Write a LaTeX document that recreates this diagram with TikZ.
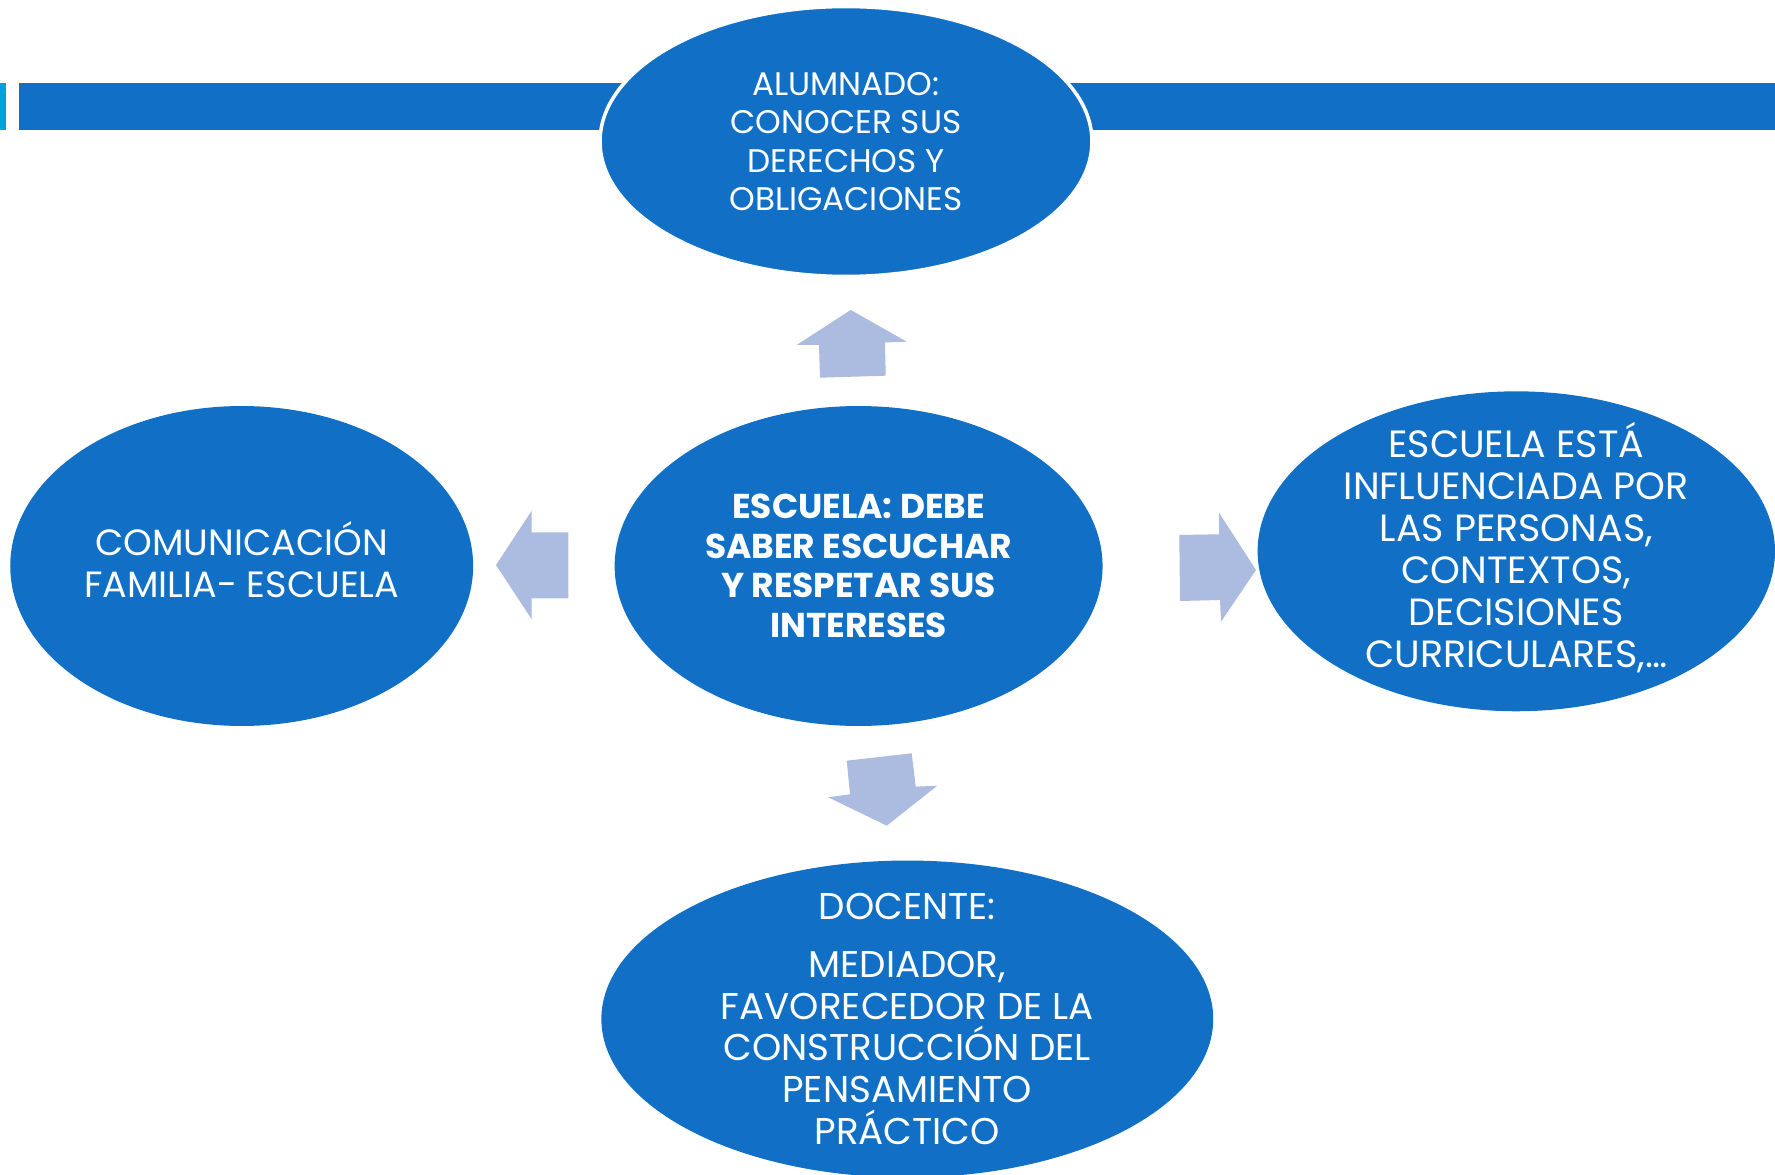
\documentclass[tikz,border=0pt]{standalone}
\usepackage{fontspec}
\setmainfont{Poppins}
\usetikzlibrary{shapes.geometric}
\definecolor{blaumittel}{RGB}{17,112,198}
\definecolor{pfeilblau}{RGB}{171,188,224}
\definecolor{cyanbalken}{RGB}{0,160,220}

\begin{document}
\begin{tikzpicture}[x=0.02cm, y=-0.02cm, % 1 Einheit = 1 Pixel, y nach unten
  blase/.style={ellipse, fill=blaumittel, inner sep=0pt},
  blasentext/.style={text=white, align=center, inner sep=0pt},
  pfeil/.style={fill=pfeilblau}]

% Rahmen
\useasboundingbox (0,0) rectangle (1775,1175);
\clip (0,0) rectangle (1775,1175);

% Balken oben
\fill[cyanbalken] (0,83) rectangle (6,130);
\fill[blaumittel] (19,83) rectangle (1775,130);

% Ellipsen
\node[blase, draw=white, line width=2pt, minimum width=9.84cm, minimum height=5.4cm] (alumnado) at (846,141.5) {};
\node[blase, minimum width=9.76cm, minimum height=6.4cm] (escuela) at (858.6,566) {};
\node[blase, minimum width=9.26cm, minimum height=6.4cm] (familia) at (241.7,566) {};
\node[blase, minimum width=10.35cm, minimum height=6.4cm] (contexto) at (1516.3,551.3) {};
\node[blase, minimum width=12.24cm, minimum height=6.34cm] (docente) at (907.3,1019) {};

% Texte
\node[blasentext, font=\fontsize{18.6}{21.8}\selectfont] (alumnadotxt) at (alumnado) {ALUMNADO:\\CONOCER SUS\\DERECHOS Y\\OBLIGACIONES};
\node[blasentext, font=\fontsize{19.6}{22.5}\selectfont\bfseries] (escuelatxt) at (escuela) {ESCUELA: DEBE\\SABER ESCUCHAR\\Y RESPETAR SUS\\INTERESES};
\node[blasentext, font=\fontsize{20.8}{23.9}\selectfont] (familiatxt) at ([yshift=0.12cm]familia) {COMUNICACIÓN\\FAMILIA- ESCUELA};
\node[blasentext, font=\fontsize{21.6}{23.9}\selectfont] (contextotxt) at ([yshift=0.07cm]contexto) {ESCUELA ESTÁ\\INFLUENCIADA POR\\LAS PERSONAS,\\CONTEXTOS,\\DECISIONES\\CURRICULARES,…};
\node[blasentext, font=\fontsize{21.2}{23.8}\selectfont] (docentetxt) at (docente) {DOCENTE:\\[9pt]MEDIADOR,\\FAVORECEDOR DE LA\\CONSTRUCCIÓN DEL\\PENSAMIENTO\\PRÁCTICO};

% Pfeile
\fill[pfeil] (850.7,310) -- (906.7,341.7) -- (885,342.5) -- (885.7,375.7) -- (820,377.7) -- (819,345) -- (796.7,345) -- cycle; % oben
\fill[pfeil] (496,565) -- (531.7,510.7) -- (531.7,532.3) -- (568.3,532.3) -- (568.3,598.3) -- (531.7,598.3) -- (531.7,619.3) -- cycle; % links
\fill[pfeil] (1179.3,535) -- (1219,534.3) -- (1219,512.7) -- (1256,570) -- (1221,621.7) -- (1220,600) -- (1180,601) -- cycle; % rechts
\fill[pfeil] (846.7,760.7) -- (911.7,753.3) -- (915.7,786.7) -- (937.3,785.7) -- (886.7,825.7) -- (828.3,797.3) -- (850,794.3) -- cycle; % unten

\end{tikzpicture}
\end{document}
